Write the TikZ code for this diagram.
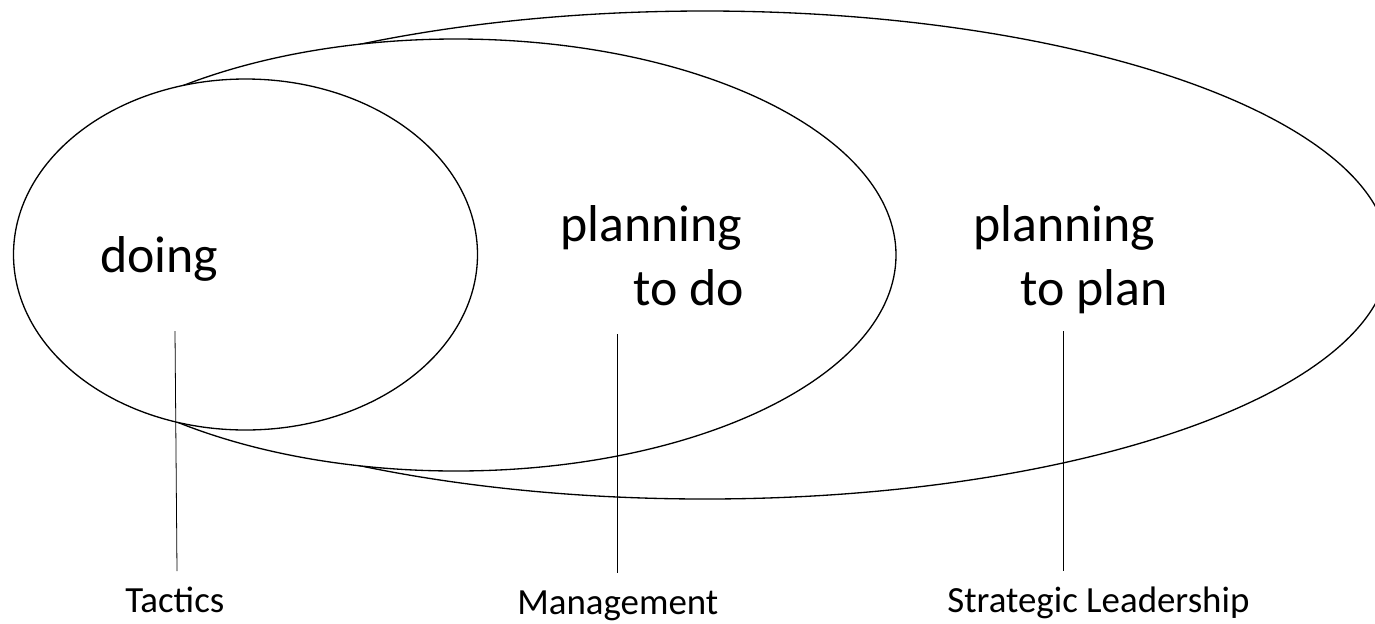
\documentclass[tikz,border=0pt]{standalone}
\usepackage{fontspec}
\setmainfont{Carlito}

\begin{document}
\begin{tikzpicture}[x=0.02cm, y=-0.02cm,
    ring/.style={draw, fill=white, line width=0.75pt},
    big/.style={font=\fontsize{29.5}{35}\selectfont, inner sep=0pt, anchor=base west},
    lvl/.style={font=\fontsize{21}{25}\selectfont, inner sep=0pt, anchor=base west},
    tick/.style={line width=0.45pt}
]
\clip (0,0) rectangle (1375,623);
% nested rings, back to front (white fill hides the inner overlaps)
\draw[ring] (705,255) ellipse [x radius=684, y radius=244];
\draw[ring] (456,255) ellipse [x radius=440, y radius=216];
\draw[ring] (245.5,254.5) ellipse [x radius=232, y radius=175.5];

\node[big] (doing) at (100,272) {doing};
\node[big] (plando) at (560,241) {planning};
\node[big] (todo) at (633,305) {to do};
\node[big] (planplan) at (973,241) {planning};
\node[big] (toplan) at (1020,305) {to plan};

\node[lvl] (tactics) at (125,612) {Tactics};
\node[lvl] (mgmt) at (517,614) {Management};
\node[lvl] (strat) at (947,612) {Strategic Leadership};

% pointers down to the labels
\coordinate (tacTop) at (175,331);
\coordinate (tacBot) at (177,571);
\coordinate (mgmtTop) at (617,334);
\coordinate (mgmtBot) at (617,573);
\coordinate (stratTop) at (1063,331);
\coordinate (stratBot) at (1063,571);
\draw[tick] (tacTop) -- (tacBot);
\draw[tick] (mgmtTop) -- (mgmtBot);
\draw[tick] (stratTop) -- (stratBot);
\end{tikzpicture}
\end{document}
